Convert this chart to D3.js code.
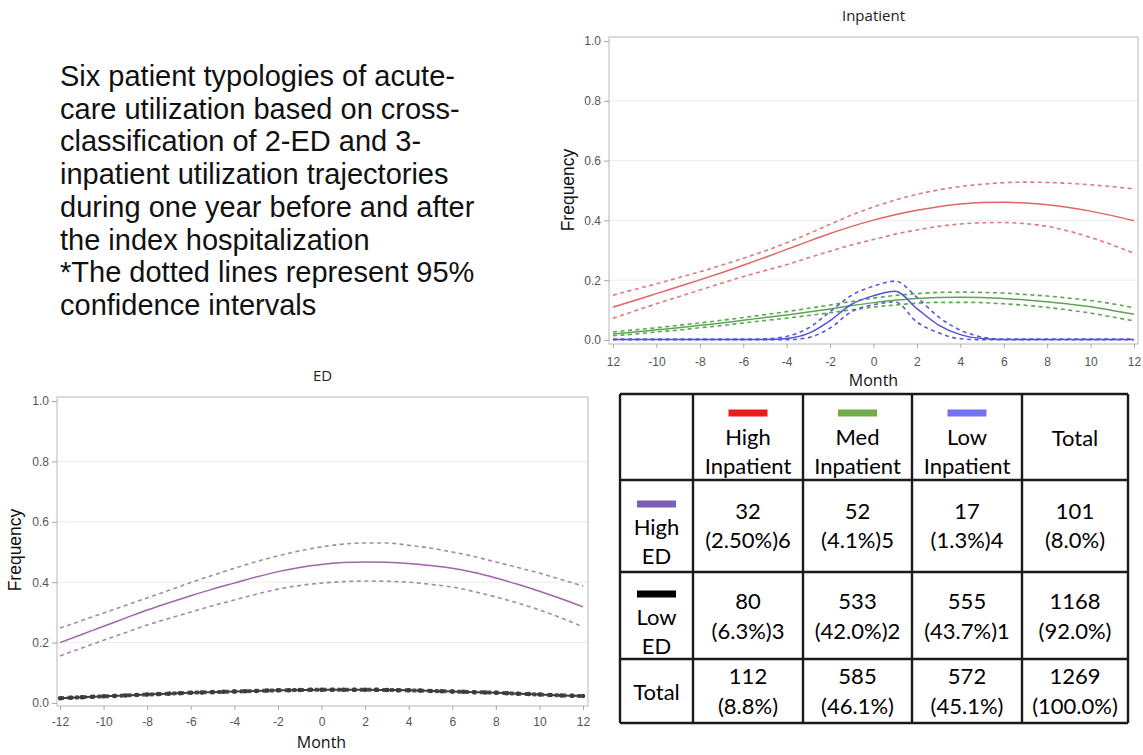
<!DOCTYPE html>
<html>
<head>
<meta charset="utf-8">
<script src="https://cdn.jsdelivr.net/npm/d3@7"></script>
<style>
  body { margin: 0; background: #fff; }
  svg { display: block; }
</style>
</head>
<body>
<div id="chart"></div>
<script>
// 1: DATA
const months = [-12, -11, -10, -9, -8, -7, -6, -5, -4, -3, -2, -1, 0, 1, 2, 3, 4, 5, 6, 7, 8, 9, 10, 11, 12];
const monthTicks = [-12, -10, -8, -6, -4, -2, 0, 2, 4, 6, 8, 10, 12];
const freqTicks = [0, 0.2, 0.4, 0.6, 0.8, 1.0];

// Inpatient trajectories
const inpHighMean  = [.110, .132, .155, .178, .201, .225, .250, .276, .303, .330, .356, .380, .401, .419, .434, .446, .455, .460, .461, .458, .452, .443, .431, .416, .399];
const inpHighUpper = [.150, .169, .188, .208, .228, .250, .273, .298, .325, .355, .387, .418, .445, .468, .487, .502, .513, .521, .526, .528, .527, .524, .519, .513, .505];
const inpHighLower = [.073, .097, .121, .144, .167, .190, .212, .232, .252, .275, .297, .318, .336, .354, .368, .380, .388, .392, .393, .389, .380, .364, .343, .318, .290];

const inpMedMean  = [.020, .027, .034, .041, .049, .057, .066, .075, .084, .094, .104, .115, .125, .133, .139, .142, .143, .142, .139, .134, .128, .120, .111, .099, .086];
const inpMedUpper = [.027, .034, .041, .049, .057, .066, .075, .085, .095, .106, .117, .129, .140, .149, .155, .159, .160, .159, .157, .152, .147, .140, .132, .121, .108];
const inpMedLower = [.014, .020, .027, .033, .041, .048, .057, .065, .073, .082, .091, .101, .110, .117, .123, .126, .126, .125, .121, .116, .109, .100, .090, .077, .064];

const inpLowMean  = [.002, .002, .002, .002, .002, .002, .002, .002, .005, .022, .065, .120, .148, .163, .105, .050, .018, .005, .002, .002, .002, .002, .002, .002, .002];
const inpLowUpper = [.003, .003, .003, .003, .003, .003, .003, .004, .012, .040, .095, .150, .180, .197, .143, .077, .033, .010, .003, .003, .003, .003, .003, .003, .003];
const inpLowLower = [.001, .001, .001, .001, .001, .001, .001, .001, .001, .008, .040, .095, .118, .127, .060, .024, .004, .001, .001, .001, .001, .001, .001, .001, .001];

// ED trajectories
const edHighMean  = [.200, .227, .254, .281, .308, .332, .355, .377, .397, .417, .435, .449, .459, .465, .467, .466, .462, .455, .446, .432, .414, .393, .370, .345, .318];
const edHighUpper = [.248, .273, .298, .323, .348, .373, .399, .423, .446, .468, .487, .504, .517, .526, .530, .530, .522, .513, .500, .485, .467, .449, .430, .409, .387];
const edHighLower = [.156, .182, .208, .233, .258, .280, .301, .322, .341, .360, .377, .389, .397, .402, .404, .403, .400, .393, .384, .369, .351, .331, .308, .282, .252];

const edLowMean  = [.016, .019, .022, .025, .028, .031, .034, .036, .038, .040, .042, .043, .044, .044, .044, .043, .042, .040, .038, .036, .034, .031, .028, .025, .023];
const edLowUpper = [.020, .023, .026, .029, .032, .035, .038, .040, .042, .044, .046, .047, .048, .048, .048, .047, .046, .044, .042, .040, .038, .035, .032, .029, .027];
const edLowLower = [.012, .015, .018, .021, .024, .027, .030, .032, .034, .036, .038, .039, .040, .040, .040, .039, .038, .036, .034, .032, .030, .027, .024, .021, .019];

// Cross-classification table
const colHeaders = [["High", "Inpatient"], ["Med", "Inpatient"], ["Low", "Inpatient"], ["Total"]];
const colColors = ["#ec1c1c", "#70ad47", "#7272f2", null];
const rowHeaders = [["High", "ED"], ["Low", "ED"], ["Total"]];
const rowColors = ["#7b5fb5", "#000000", null];
const counts = [
    ["32", "52", "17", "101"],
    ["80", "533", "555", "1168"],
    ["112", "585", "572", "1269"]
];
const shares = [
    ["(2.50%)6", "(4.1%)5", "(1.3%)4", "(8.0%)"],
    ["(6.3%)3", "(42.0%)2", "(43.7%)1", "(92.0%)"],
    ["(8.8%)", "(46.1%)", "(45.1%)", "(100.0%)"]
];

const introLines = [
    "Six patient typologies of acute-",
    "care utilization based on cross-",
    "classification of 2-ED and 3-",
    "inpatient utilization trajectories",
    "during one year before and after",
    "the index hospitalization",
    "*The dotted lines represent 95%",
    "confidence intervals"
];

// 2: SVG
const svg = d3.select("#chart")
    .append("svg")
    .attr("width", 1143)
    .attr("height", 755);

// intro text
svg.append("text")
    .attr("font-family", "'Liberation Sans', Arial, sans-serif")
    .attr("font-size", 29)
    .attr("fill", "#111")
    .selectAll("tspan")
    .data(introLines)
    .enter()
    .append("tspan")
    .attr("x", 60)
    .attr("y", (d, i) => 86 + i * 32.7)
    .text(d => d);

// 3: PANEL DRAWING
function drawPanel(p) {
    const g = svg.append("g");

    const x = d3.scaleLinear().domain([-12, 12]).range(p.xRange);
    const y = d3.scaleLinear().domain([0, 1]).range(p.yRange);

    // frame + grid
    g.selectAll("line.grid")
        .data([0.2, 0.4, 0.6, 0.8])
        .enter()
        .append("line")
        .attr("class", "grid")
        .attr("x1", p.left).attr("x2", p.right)
        .attr("y1", d => y(d)).attr("y2", d => y(d))
        .attr("stroke", "#ececec")
        .attr("stroke-width", 1);

    g.append("rect")
        .attr("x", p.left).attr("y", p.top)
        .attr("width", p.right - p.left)
        .attr("height", p.bottom - p.top)
        .attr("fill", "none")
        .attr("stroke", "#c4c4c4")
        .attr("stroke-width", 1.2);

    // axes
    const yAxis = g.append("g")
        .attr("transform", `translate(${p.left},0)`)
        .call(d3.axisLeft(y).tickValues(freqTicks).tickSize(5).tickPadding(3).tickFormat(d3.format(".1f")));
    const xAxis = g.append("g")
        .attr("transform", `translate(0,${p.bottom})`)
        .call(d3.axisBottom(x).tickValues(monthTicks).tickSize(4).tickPadding(p.xPad)
            .tickFormat(d => (d === -12 && p.cutMinus) ? "12" : String(d)));

    [yAxis, xAxis].forEach(a => {
        a.select(".domain").remove();
        a.selectAll(".tick line").attr("stroke", "#a8a8a8");
        a.selectAll(".tick text")
            .attr("fill", "#555")
            .attr("font-family", "'Liberation Sans', Arial, sans-serif")
            .attr("font-size", 12);
    });

    // labels
    g.append("text")
        .attr("x", (p.left + p.right) / 2).attr("y", p.titleY)
        .attr("text-anchor", "middle")
        .attr("font-family", "'Open Sans', sans-serif")
        .attr("font-size", 15)
        .attr("fill", "#222")
        .text(p.title);

    g.append("text")
        .attr("x", x(0)).attr("y", p.monthY)
        .attr("text-anchor", "middle")
        .attr("font-family", "'Open Sans', sans-serif")
        .attr("font-size", 16)
        .attr("fill", "#111")
        .text("Month");

    g.append("text")
        .attr("transform", `translate(${p.freqX},${p.freqY}) rotate(-90)`)
        .attr("text-anchor", "middle")
        .attr("font-family", "'Liberation Sans', Arial, sans-serif")
        .attr("font-size", 17.5)
        .attr("fill", "#111")
        .text("Frequency");

    // curves
    const line = d3.line()
        .x((d, i) => x(months[i]))
        .y(d => y(d))
        .curve(d3.curveMonotoneX);

    p.series.forEach(s => {
        [s.upper, s.lower].forEach(ci => {
            g.append("path")
                .attr("d", line(ci))
                .attr("fill", "none")
                .attr("stroke", s.ciColor)
                .attr("stroke-width", 1.6)
                .attr("stroke-dasharray", "4,3.5");
        });
        g.append("path")
            .attr("d", line(s.mean))
            .attr("fill", "none")
            .attr("stroke", s.color)
            .attr("stroke-width", s.width || 1.5);
        if (s.beads) {
            g.append("path")
                .attr("d", line(s.mean))
                .attr("fill", "none")
                .attr("stroke", s.color)
                .attr("stroke-width", 4.5)
                .attr("stroke-linecap", "round")
                .attr("stroke-dasharray", "0.5,10.4");
        }
    });
}

// 4: INPATIENT PANEL
drawPanel({
    title: "Inpatient",
    left: 609, right: 1138, top: 37, bottom: 344,
    xRange: [613, 1134], yRange: [340, 41],
    xPad: 9, cutMinus: true,
    titleY: 21, monthY: 386, freqX: 574, freqY: 190,
    series: [
        { mean: inpHighMean, upper: inpHighUpper, lower: inpHighLower, color: "#e06666", ciColor: "#e07a7a" },
        { mean: inpMedMean, upper: inpMedUpper, lower: inpMedLower, color: "#5ea552", ciColor: "#5ea552" },
        { mean: inpLowMean, upper: inpLowUpper, lower: inpLowLower, color: "#5050d8", ciColor: "#5a5ad8" }
    ]
});

// 5: ED PANEL
drawPanel({
    title: "ED",
    left: 57, right: 588, top: 397, bottom: 706,
    xRange: [60, 583], yRange: [703, 401],
    xPad: 7, cutMinus: false,
    titleY: 381, monthY: 748, freqX: 21, freqY: 550,
    series: [
        { mean: edHighMean, upper: edHighUpper, lower: edHighLower, color: "#a064ac", ciColor: "#a48aa6" },
        { mean: edLowMean, upper: edLowUpper, lower: edLowLower, color: "#3c3c3c", ciColor: "#555", width: 2, beads: true }
    ]
});

// 6: TABLE
const colX = [620, 693, 803, 912, 1022, 1128];
const rowY = [394, 480, 572, 659, 723];
const tFont = "Lato, 'Open Sans', sans-serif";
const table = svg.append("g");
const cx = i => (colX[i] + colX[i + 1]) / 2;

table.selectAll("line.h")
    .data(rowY)
    .enter()
    .append("line")
    .attr("x1", colX[0]).attr("x2", colX[5])
    .attr("y1", d => d).attr("y2", d => d)
    .attr("stroke", "#1a1a1a").attr("stroke-width", 2.4);
table.selectAll("line.v")
    .data(colX)
    .enter()
    .append("line")
    .attr("y1", rowY[0]).attr("y2", rowY[4])
    .attr("x1", d => d).attr("x2", d => d)
    .attr("stroke", "#1a1a1a").attr("stroke-width", 2.4);

function cellText(x, ys, lines) {
    table.append("text")
        .attr("font-family", tFont)
        .attr("font-size", 22)
        .attr("fill", "#000")
        .attr("text-anchor", "middle")
        .selectAll("tspan")
        .data(lines)
        .enter()
        .append("tspan")
        .attr("x", x)
        .attr("y", (d, i) => ys[i])
        .text(d => d);
}

// header row
colHeaders.forEach((h, j) => {
    const x = cx(j + 1);
    if (colColors[j]) {
        table.append("rect")
            .attr("x", x - 19.5).attr("y", 409.5)
            .attr("width", 39).attr("height", 7)
            .attr("fill", colColors[j]);
        cellText(x, [445, 474], h);
    } else {
        cellText(x, [446], h);
    }
});

// body rows
const rowLabelY = [[535, 564], [625, 654], [700]];
const rowSwatchY = [504, 594];
const rowNumY = [[519, 548], [609, 639], [684, 714]];
rowHeaders.forEach((r, i) => {
    const x = cx(0);
    if (rowColors[i]) {
        table.append("rect")
            .attr("x", x - 19.5).attr("y", rowSwatchY[i] - 3.5)
            .attr("width", 39).attr("height", 7)
            .attr("fill", rowColors[i]);
    }
    cellText(x, rowLabelY[i], r);
    counts[i].forEach((c, j) => {
        cellText(cx(j + 1), rowNumY[i], [c, shares[i][j]]);
    });
});
</script>
</body>
</html>
